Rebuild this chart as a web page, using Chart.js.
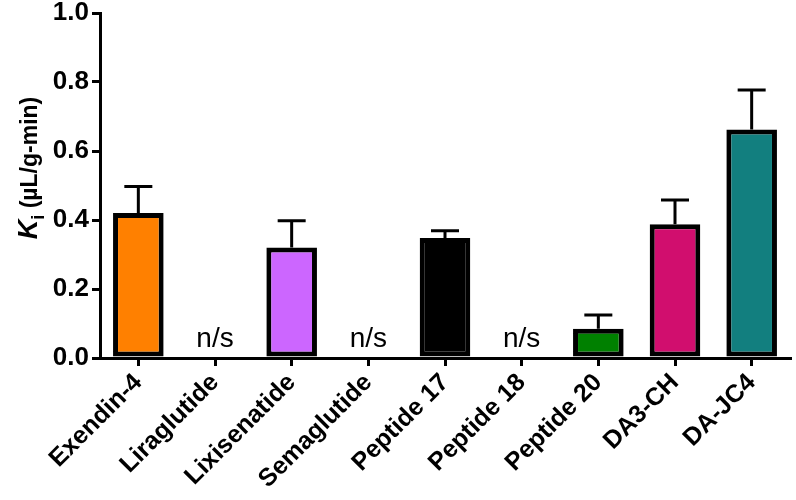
<!DOCTYPE html>
<html lang="en">
<head>
  <meta charset="UTF-8" />
  <title>Ki by peptide</title>
  <script src="https://cdn.jsdelivr.net/npm/chart.js"></script>
  <style>
    body { margin: 0; background: #fff; }
    .chart-box { width: 796px; height: 500px; }
  </style>
</head>
<body>
  <div class="chart-box"><canvas id="kiChart"></canvas></div>

  <script>
    const peptides = ["Exendin-4", "Liraglutide", "Lixisenatide", "Semaglutide", "Peptide 17",
                      "Peptide 18", "Peptide 20", "DA3-CH", "DA-JC4"];
    // null = not significant (drawn as "n/s")
    const kiValues = [0.42, null, 0.32, null, 0.348, null, 0.085, 0.388, 0.662];
    const kiErrors = [0.077, null, 0.078, null, 0.021, null, 0.04, 0.07, 0.115];
    const barColors = ["#ff8000", "#cc66ff", "#cc66ff", "#000000", "#000000",
                       "#000000", "#008000", "#d10e6e", "#127f7f"];
    const yTicks = [0, 0.2, 0.4, 0.6, 0.8, 1.0];

    const FONT = "'Liberation Sans', Arial, sans-serif";

    // error bars (upper only) + n/s labels
    const errorBars = {
      id: "errorBars",
      afterDatasetsDraw(chart) {
        const { ctx, scales } = chart;
        const meta = chart.getDatasetMeta(0);
        ctx.save();
        ctx.strokeStyle = "#000";
        ctx.lineWidth = 3;
        kiValues.forEach((v, i) => {
          const x = meta.data[i].x;
          if (v === null) {
            ctx.fillStyle = "#000";
            ctx.font = "28px " + FONT;
            ctx.textAlign = "center";
            ctx.textBaseline = "alphabetic";
            ctx.fillText("n/s", x, scales.y.getPixelForValue(0) - 11);
            return;
          }
          const yTop = scales.y.getPixelForValue(v);
          const yErr = scales.y.getPixelForValue(v + kiErrors[i]);
          ctx.beginPath();
          ctx.moveTo(x, yTop);
          ctx.lineTo(x, yErr);
          ctx.moveTo(x - 14, yErr);
          ctx.lineTo(x + 14, yErr);
          ctx.stroke();
        });
        ctx.restore();
      }
    };

    // y title: K (italic) + subscript i + (μL/g-min)
    const yTitle = {
      id: "yTitle",
      afterDraw(chart) {
        const ctx = chart.ctx;
        const parts = [
          { t: "K", f: "italic bold 27px " + FONT, dy: 0 },
          { t: "i", f: "bold 18px " + FONT, dy: 7 },
          { t: " (\u00b5L/g-min)", f: "bold 23px " + FONT, dy: 0 }
        ];
        let total = 0;
        parts.forEach(p => { ctx.font = p.f; p.w = ctx.measureText(p.t).width; total += p.w; });
        ctx.save();
        ctx.translate(37, 168);
        ctx.rotate(-Math.PI / 2);
        ctx.fillStyle = "#000";
        ctx.textBaseline = "alphabetic";
        let x = -total / 2;
        parts.forEach(p => {
          ctx.font = p.f;
          ctx.fillText(p.t, x, p.dy);
          x += p.w;
        });
        ctx.restore();
      }
    };

    new Chart(document.getElementById("kiChart"), {
      type: "bar",
      data: {
        labels: peptides,
        datasets: [{
          data: kiValues,
          backgroundColor: barColors,
          borderColor: "#000",
          borderWidth: 5,
          borderSkipped: false,
          categoryPercentage: 1,
          barPercentage: 0.66
        }]
      },
      options: {
        responsive: true,
        maintainAspectRatio: false,
        animation: false,
        layout: { padding: { top: 13, right: 6 } },
        plugins: { legend: { display: false }, tooltip: { enabled: false } },
        scales: {
          x: {
            afterFit(scale) { scale.height = 142; },
            border: { color: "#000", width: 3 },
            grid: { drawOnChartArea: false, offset: false, color: "#000", lineWidth: 3, tickLength: 8 },
            ticks: {
              color: "#000",
              font: { family: FONT, size: 25, weight: "bold" },
              minRotation: 45,
              maxRotation: 45,
              padding: 2
            }
          },
          y: {
            min: 0,
            max: 1,
            afterFit(scale) { scale.width = 100; scale.paddingTop = 13; },
            afterBuildTicks(scale) { scale.ticks = yTicks.map(v => ({ value: v })); },
            border: { color: "#000", width: 3 },
            grid: { drawOnChartArea: false, color: "#000", lineWidth: 3, tickLength: 8 },
            ticks: {
              color: "#000",
              font: { family: FONT, size: 26, weight: "bold" },
              padding: 3,
              callback: v => Number(v).toFixed(1)
            }
          }
        }
      },
      plugins: [errorBars, yTitle]
    });
  </script>
</body>
</html>
